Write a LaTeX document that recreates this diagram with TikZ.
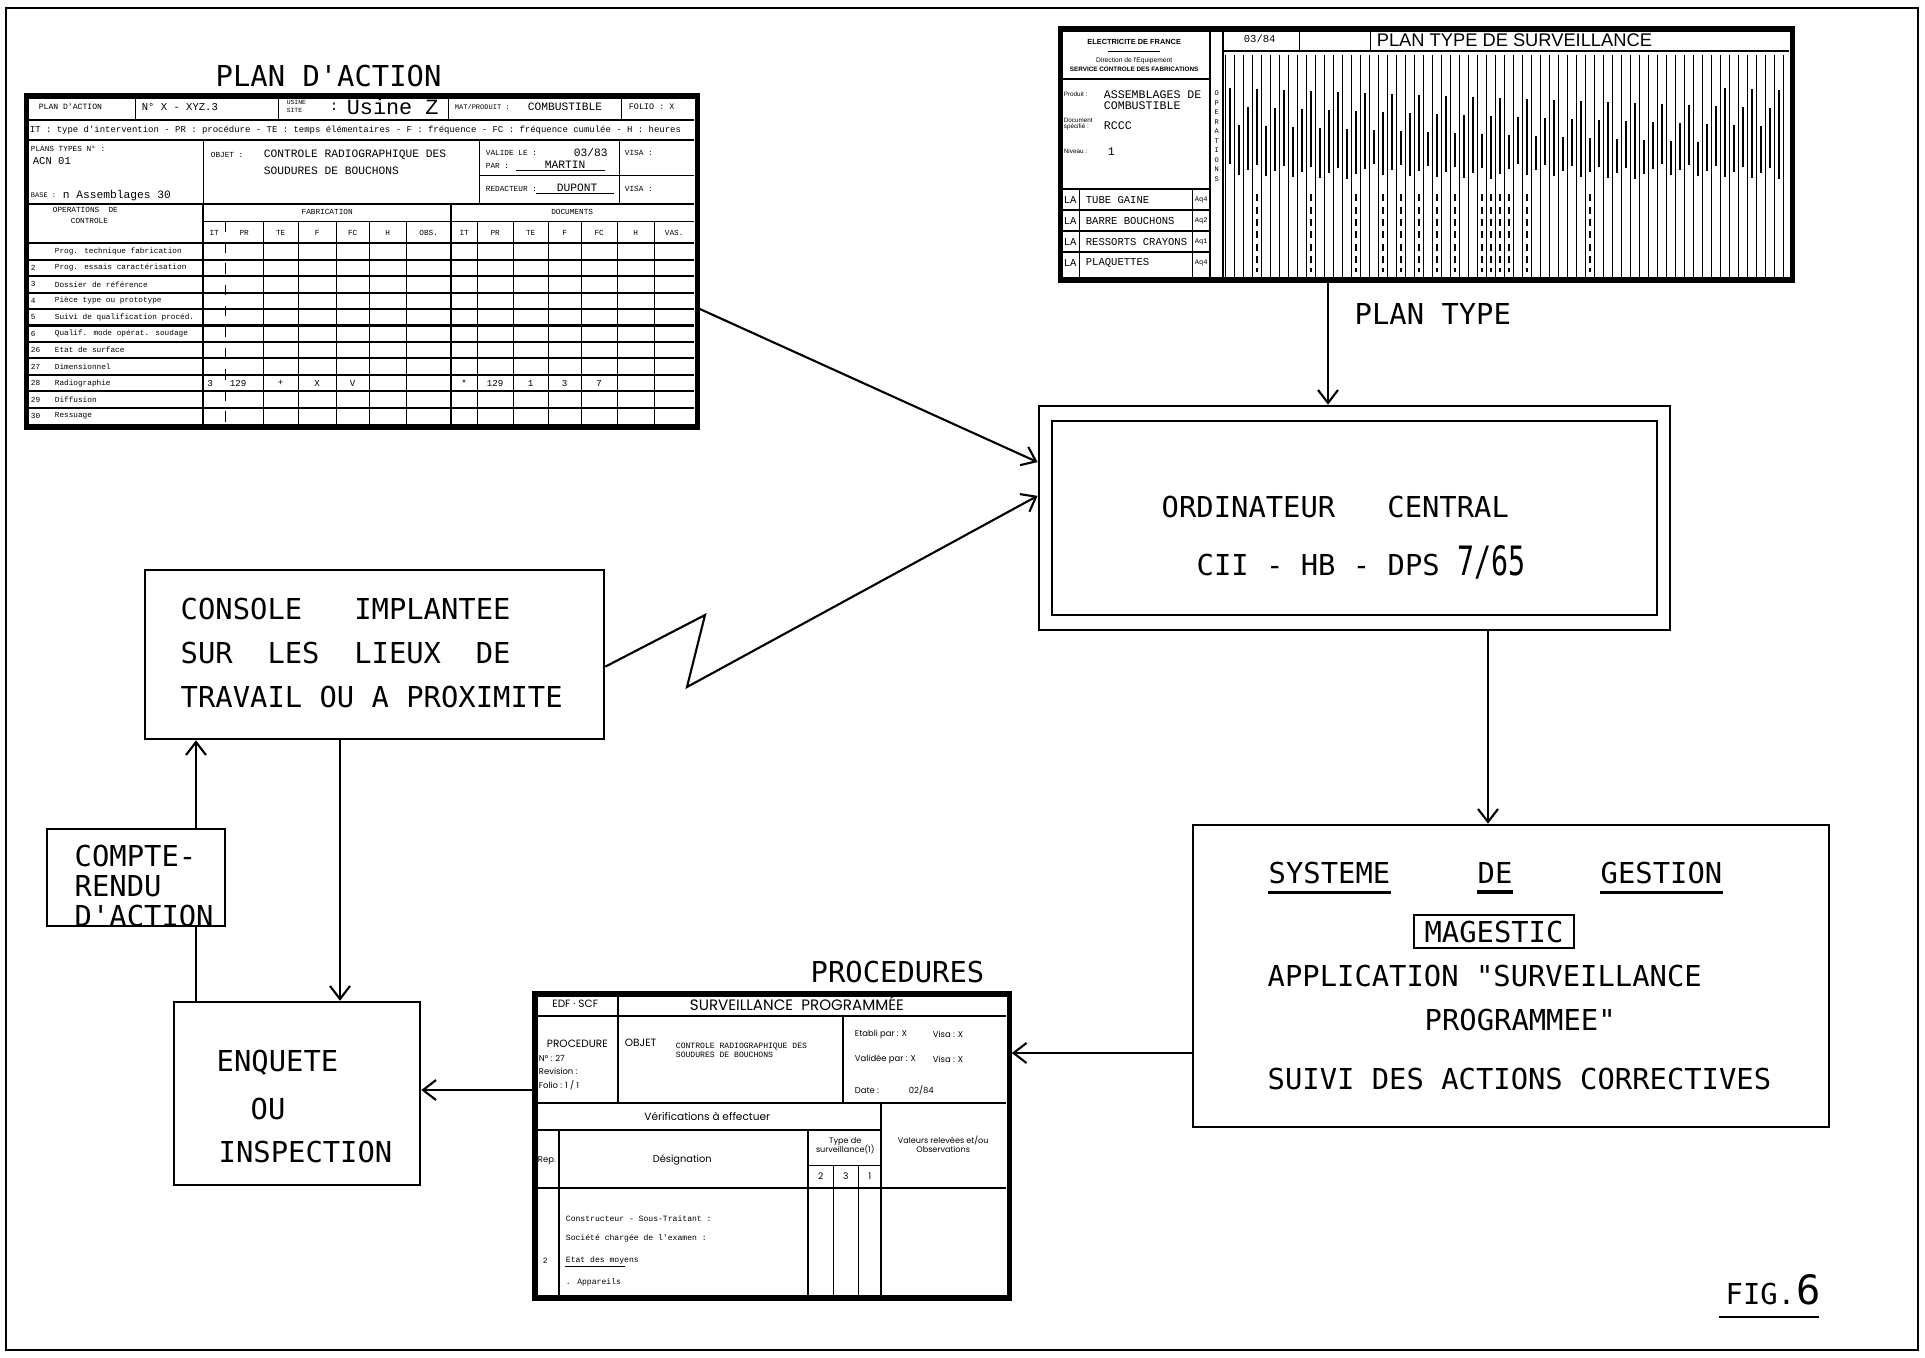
\documentclass[tikz,border=0pt]{standalone}
\usepackage{fontspec}
\usetikzlibrary{arrows.meta}

\newfontfamily\plotfont{DejaVu Sans Mono}
\newfontfamily\tallfont[FakeStretch=0.7]{DejaVu Sans Mono}
\newfontfamily\typfont{Liberation Mono}
\newfontfamily\helfont{Liberation Sans}
\newfontfamily\geofont{Poppins}

\tikzset{
  lbl/.style={font=\plotfont\fontsize{8.2}{10}\selectfont, inner sep=0pt, anchor=west},
  typ/.style={font=\typfont\fontsize{#1}{#1}\selectfont, inner sep=0pt, anchor=west},
  hel/.style={font=\helfont\fontsize{#1}{#1}\selectfont, inner sep=0pt, anchor=west},
  geo/.style={font=\geofont\fontsize{#1}{#1}\selectfont, inner sep=0pt, anchor=west},
  box/.style={draw, line width=0.7pt, inner sep=0pt},
  form/.style={draw, line width=1.5pt, inner sep=0pt},
  arr/.style={line width=0.6pt, -{Straight Barb[length=1.3mm,width=2mm]}},
  ln/.style={line width=0.6pt},
  rule/.style={line width=0.6pt},
  thinrule/.style={line width=0.35pt},
}

\begin{document}
\begin{tikzpicture}[x=0.01cm, y=-0.01cm]
  \useasboundingbox (0,0) rectangle (1925,1357);
  % sheet frame
  \draw[ln] (6,8) rectangle (1918,1350);

  % ---- plan d'action sheet
  \node[lbl] (paT) at (215,76) {PLAN D'ACTION};
  \node[form, minimum width=6.70cm, minimum height=3.31cm] (pa) at (362,261.5) {};
  \begin{scope}[shift={(pa.north west)}]
    \draw[rule] (0,27) -- (670,27) (0,47) -- (670,47) (0,111) -- (670,111) (0,150) -- (670,150);
    \foreach \x in {111,254,424,597} \draw[thinrule] (\x,0) -- (\x,27);
    \foreach \x in {179,455,595} \draw[thinrule] (\x,47) -- (\x,111);
    \draw[thinrule] (455,82) -- (670,82) (179,128) -- (670,128);
    \foreach \x in {179,427} \draw[rule] (\x,111) -- (\x,331);
    \foreach \x in {239,274,312,345,382,453,489,524,557,593,630} \draw[thinrule] (\x,128) -- (\x,331);
    \draw[thinrule, dashed] (201,128) -- (201,331);
    \foreach \k in {1,...,10} \draw[rule] (0,150+\k*16.45) -- (670,150+\k*16.45);
    % header
    \node[typ=2.3] (paH1) at (14,13.5) {PLAN D'ACTION};
    \node[typ=3] (paH2) at (117,13.5) {N° X - XYZ.3};
    \node[typ=1.8] (paH3) at (262,9) {USINE};
    \node[typ=1.8] (paH4) at (262,17) {SITE};
    \node[typ=4] (paH5) at (305,13.5) {:};
    \node[typ=6.2] (paH6) at (322,13.5) {Usine Z};
    \node[typ=2] (paH7) at (430,13.5) {MAT/PRODUIT :};
    \node[typ=3.2] (paH8) at (503,13.5) {COMBUSTIBLE};
    \node[typ=2.4] (paH9) at (604,13.5) {FOLIO : X};
    \node[typ=2.55] (paLeg) at (5,37) {IT : type d'intervention - PR : procédure - TE : temps élémentaires - F : fréquence - FC : fréquence cumulée - H : heures};
    % object block
    \node[typ=2.2] (paM1) at (6,56) {PLANS TYPES N° :};
    \node[typ=3] (paM2) at (8,68) {ACN 01};
    \node[typ=2] (paM3) at (6,102) {BASE :};
    \node[typ=3.2] (paM4) at (38,102) {n Assemblages 30};
    \node[typ=2.2] (paM5) at (186,62) {OBJET :};
    \node[typ=3.2] (paM6) at (239,62) {CONTROLE RADIOGRAPHIQUE DES};
    \node[typ=3.2] (paM7) at (239,78) {SOUDURES DE BOUCHONS};
    \node[typ=2.2] (paM8) at (461,60) {VALIDE LE :};
    \node[typ=3.2] (paM9) at (549,59) {03/83};
    \node[typ=2.2] (paM10) at (461,73) {PAR :};
    \node[typ=3.2] (paM11) at (520,72) {MARTIN};
    \node[typ=2.2] (paM12) at (600,60) {VISA :};
    \node[typ=2.2] (paM13) at (461,96) {REDACTEUR :};
    \node[typ=3.2] (paM14) at (532,95) {DUPONT};
    \node[typ=2.2] (paM15) at (600,96) {VISA :};
    \draw[thinrule] (492,77) -- (581,77) (512,100) -- (590,100);
    % table head
    \node[typ=2.2] (paO1) at (28,117) {OPERATIONS~~DE};
    \node[typ=2.2] (paO2) at (46,128) {CONTROLE};
    \node[typ=2.2, anchor=center] (paFab) at (303,119) {FABRICATION};
    \node[typ=2.2, anchor=center] (paDoc) at (548,119) {DOCUMENTS};
    \foreach \x/\hd [count=\n] in {190/IT,220/PR,256.5/TE,293/F,328.5/FC,363.5/H,404.5/OBS.,440/IT,471/PR,506.5/TE,540.5/F,575/FC,611.5/H,650/VAS.}
      \node[typ=2.2, anchor=center] (paC\n) at (\x,140) {\hd};
    % operations
    \foreach \k/\num/\lab in {0//Prog. technique fabrication, 1/2/Prog. essais caractérisation, 2/3/Dossier de référence, 3/4/Pièce type ou prototype, 4/5/Suivi de qualification procéd., 5/6/Qualif. mode opérat. soudage, 6/26/Etat de surface, 7/27/Dimensionnel, 8/28/Radiographie, 9/29/Diffusion, 10/30/Ressuage}
    {
      \node[typ=2.2] (paN\k) at (6,158.2+\k*16.45) {\num};
      \node[typ=2.2] (paR\k) at (30,158.2+\k*16.45) {\lab};
    }
    \foreach \x/\val [count=\n] in {186/3,214/129,256.5/+,293/X,328.5/V,440/*,471/129,506.5/1,540.5/3,575/7}
      \node[typ=2.6, anchor=center] (paV\n) at (\x,289.8) {\val};
  \end{scope}

  % ---- plan type sheet
  \node[form, minimum width=7.31cm, minimum height=2.51cm] (pt) at (1426.5,154.5) {};
  \begin{scope}[shift={(pt.north west)}]
    \draw[rule] (152,0) -- (152,251) (165,0) -- (165,251) (0,53) -- (152,53);
    \foreach \y in {163,184,205,226} \draw[rule] (0,\y) -- (152,\y);
    \draw[thinrule] (21,163) -- (21,251) (134,163) -- (134,251);
    \draw[rule] (165,25) -- (731,25);
    \draw[thinrule] (241,0) -- (241,25) (312,0) -- (312,25);
    \draw[thinrule] (50,25) -- (102,25);
    \foreach \col in {0,...,62} \draw[thinrule] (167+\col*9,29) -- (167+\col*9,251);
    % written headings of the columns
    \foreach \col in {0,...,61} {
      \pgfmathsetmacro\bartop{62+mod(\col*37,55)}
      \pgfmathsetmacro\barbot{138+mod(\col*11,16)}
      \draw[line width=0.65pt] (171.5+\col*9,\bartop) -- (171.5+\col*9,\barbot);
    }
    \foreach \col in {3,9,14,17,19,21,23,25,28,29,30,31,33,40}
      \draw[line width=0.5pt, dash pattern=on 2pt off 1.5pt] (171.5+\col*9,168) -- (171.5+\col*9,246);
    \node[hel=2.1, anchor=center] (ptE1) at (76,16) {\bfseries ELECTRICITE DE FRANCE};
    \node[hel=1.9, anchor=center] (ptE2) at (76,34.6) {Direction de l'Equipement};
    \node[hel=1.8, anchor=center] (ptE3) at (76,43) {\bfseries SERVICE CONTROLE DES FABRICATIONS};
    \node[hel=1.8] (ptP1) at (5,68) {Produit :};
    \node[typ=3.3] (ptP2) at (45,68) {ASSEMBLAGES DE};
    \node[typ=3.3] (ptP3) at (45,79) {COMBUSTIBLE};
    \node[hel=1.8, align=left] (ptP4) at (5,98) {Document\\spécifié :};
    \node[typ=3.3] (ptP5) at (45,99) {RCCC};
    \node[hel=1.8] (ptP6) at (5,125) {Niveau :};
    \node[typ=3.3] (ptP7) at (49,125) {1};
    \foreach \k/\lab/\code in {0/TUBE GAINE/Aq4, 1/BARRE BOUCHONS/Aq2, 2/RESSORTS CRAYONS/Aq1, 3/PLAQUETTES/Aq4}
    {
      \node[typ=3] (ptL\k) at (5,173.5+\k*21) {LA};
      \node[typ=3] (ptN\k) at (27,173.5+\k*21) {\lab};
      \node[typ=2] (ptC\k) at (136,173.5+\k*21) {\code};
    }
    \node[anchor=center, inner sep=0pt, align=center, font=\typfont\fontsize{2}{2.7}\selectfont] (ptOp) at (158.5,110) {O\\P\\E\\R\\A\\T\\I\\O\\N\\S};
    \node[typ=3] (ptD) at (185,12) {03/84};
    \node[hel=5.2] (ptTitle) at (318,14) {PLAN TYPE DE SURVEILLANCE};
  \end{scope}
  \node[lbl] (ptLab) at (1354,314) {PLAN TYPE};

  % ---- central computer
  \node[box, minimum width=6.31cm, minimum height=2.24cm] (ordi) at (1354.5,518) {};
  \node[box, minimum width=6.05cm, minimum height=1.94cm] (ordiIn) at (ordi.center) {};
  \node[lbl] (ordA) at (1161,507) {ORDINATEUR~~~CENTRAL};
  \node[lbl] (ordB) at (1196,565) {CII - HB - DPS};
  \node[anchor=base west, inner sep=0pt, font=\tallfont\fontsize{11.5}{12}\selectfont] (ordC) at (1457,575) {7/65};

  % ---- management system
  \node[box, minimum width=6.36cm, minimum height=3.02cm] (gestion) at (1511,976) {};
  \node[lbl] (sys) at (1268,873) {SYSTEME};
  \node[lbl] (de) at (1477,873) {DE};
  \node[lbl] (gest) at (1600,873) {GESTION};
  \foreach \w in {sys,de,gest}
    \draw[line width=0.9pt] ([yshift=-2.2pt]\w.south west) -- ([yshift=-2.2pt]\w.south east);
  \node[box, lbl, anchor=center, minimum width=1.6cm, minimum height=0.33cm] (mag) at (1494,931.5) {MAGESTIC};
  \node[lbl] (appl) at (1267,976) {APPLICATION "SURVEILLANCE};
  \node[lbl] (prog) at (1424,1020) {PROGRAMMEE"};
  \node[lbl] (suivi) at (1267,1079) {SUIVI DES ACTIONS CORRECTIVES};

  % ---- procedures sheet
  \node[lbl] (procT) at (810,972) {PROCEDURES};
  \node[form, minimum width=4.74cm, minimum height=3.04cm] (proc) at (772,1146) {};
  \begin{scope}[shift={(proc.north west)}]
    \draw[rule] (0,25) -- (474,25) (0,112) -- (474,112) (0,139) -- (349,139) (0,197) -- (474,197);
    \draw[rule] (86,0) -- (86,112) (311,25) -- (311,112) (349,112) -- (349,304);
    \draw[rule] (27,139) -- (27,304) (276,139) -- (276,304);
    \draw[thinrule] (276,174) -- (349,174) (301,174) -- (301,304) (326,174) -- (326,304);
    \node[geo=3, anchor=center] (prH1) at (43,12.5) {EDF · SCF};
    \node[geo=4.3] (prH2) at (157,12.5) {SURVEILLANCE~~PROGRAMMÉE};
    \node[geo=3] (prP1) at (14,53) {PROCEDURE};
    \node[geo=2.4] (prP2) at (6,67) {N° : 27};
    \node[geo=2.4] (prP3) at (6,80) {Revision :};
    \node[geo=2.4] (prP4) at (6,94) {Folio : 1 / 1};
    \node[geo=3] (prO1) at (92,52) {OBJET};
    \node[typ=2.3] (prO2) at (143,55) {CONTROLE RADIOGRAPHIQUE DES};
    \node[typ=2.3] (prO3) at (143,64) {SOUDURES DE BOUCHONS};
    \node[geo=2.4] (prS1) at (322,43) {Etabli par : X};
    \node[geo=2.4] (prS2) at (400,43) {Visa : X};
    \node[geo=2.4] (prS3) at (322,68) {Validée par : X};
    \node[geo=2.4] (prS4) at (400,68) {Visa : X};
    \node[geo=2.4] (prS5) at (322,99) {Date :};
    \node[geo=2.4] (prS6) at (376,99) {02/84};
    \node[geo=3, anchor=center] (prV) at (175,125.5) {Vérifications à effectuer};
    \node[geo=2.4] (prR) at (5,169) {Rep.};
    \node[geo=2.8, anchor=center] (prDes) at (150,169) {Désignation};
    \node[geo=2.3, anchor=center] (prT1) at (313,150) {Type de};
    \node[geo=2.3, anchor=center] (prT2) at (313,158) {surveillance(1)};
    \foreach \x/\val [count=\n] in {288.5/2,313.5/3,337.5/1}
      \node[geo=2.6, anchor=center] (prD\n) at (\x,185) {\val};
    \node[geo=2.3, anchor=center] (prW1) at (411,149) {Valeurs relevées et/ou};
    \node[geo=2.3, anchor=center] (prW2) at (411,158) {Observations};
    \node[typ=2.3] (prB1) at (33,227) {Constructeur - Sous-Traitant :};
    \node[typ=2.3] (prB2) at (33,247) {Société chargée de l'examen :};
    \node[typ=2.3] (prB3) at (10,269) {2};
    \node[typ=2.3] (prB4) at (33,269) {Etat des moyens};
    \draw[thinrule] (prB4.south west) ++(0,2) -- ++(60,0);
    \node[typ=2.3] (prB5) at (33,291) {. Appareils};
  \end{scope}

  % ---- site console, inquiry, report
  \node[box, minimum width=4.59cm, minimum height=1.69cm] (console) at (374.5,654.5) {};
  \node[lbl, align=left, font=\plotfont\fontsize{8.2}{12.4}\selectfont] (consoleTxt) at (180,653) {CONSOLE~~~IMPLANTEE\\SUR~~LES~~LIEUX~~DE\\TRAVAIL OU A PROXIMITE};
  \node[box, minimum width=2.46cm, minimum height=1.83cm] (enq) at (297,1093.5) {};
  \node[lbl] (enqA) at (216,1063) {ENQUETE};
  \node[lbl] (enqB) at (250,1109) {OU};
  \node[lbl] (enqC) at (218,1152) {INSPECTION};
  \node[box, minimum width=1.78cm, minimum height=0.97cm] (cr) at (136,877.5) {};
  \node[lbl, align=left, font=\plotfont\fontsize{8.2}{8.4}\selectfont] (crTxt) at (74,886) {COMPTE-\\RENDU\\D'ACTION};

  \node[lbl, anchor=base west] (figA) at (1725,1304) {FIG.};
  \node[anchor=base west, inner sep=0pt, font=\plotfont\fontsize{11.5}{12}\selectfont] (figB) at (figA.base east) {6};
  \draw[ln] (figA.base west) ++(-6,13) -- ++(100,0);

  % ---- links
  \coordinate (ptx) at (1328,0);
  \coordinate (gx) at (1488,0);
  \coordinate (gy) at (0,1053);
  \coordinate (ey) at (0,1090);
  \coordinate (cx) at (340,0);
  \coordinate (crx) at (196,0);
  \coordinate (zigA) at (705,615);
  \coordinate (zigB) at (687,687);
  \draw[arr] (pa.-8) -- (ordi.170);
  \draw[arr] (console.-3) -- (zigA) -- (zigB) -- (ordi.176);
  \draw[arr] (pt.south -| ptx) -- (ordi.north -| ptx);
  \draw[arr] (ordi.south -| gx) -- (gestion.north -| gx);
  \draw[arr] (gestion.west |- gy) -- (proc.east |- gy);
  \draw[arr] (proc.west |- ey) -- (enq.east |- ey);
  \draw[arr] (console.south -| cx) -- (enq.north -| cx);
  \draw[ln] (enq.north -| crx) -- (cr.south -| crx);
  \draw[arr] (cr.north -| crx) -- (console.south -| crx);
\end{tikzpicture}
\end{document}
